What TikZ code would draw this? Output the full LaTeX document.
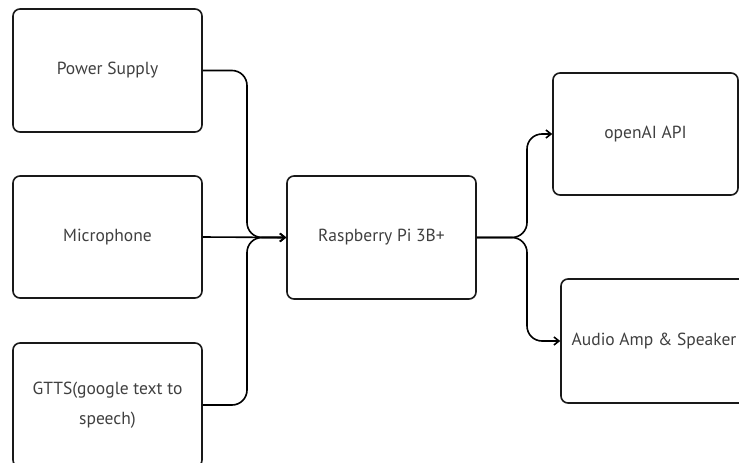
\documentclass[tikz,border=0pt]{standalone}
\usepackage{fontspec}
\setmainfont{PT Sans}
\usetikzlibrary{arrows.meta}
\begin{document}
\begin{tikzpicture}[x=1pt,y=-1pt,
  box/.style={draw=black!90, line width=1.6pt, rounded corners=7pt, text=black!75,
    font=\fontsize{17.5}{30}\selectfont, align=center},
  conn/.style={draw=black, line width=1.6pt, rounded corners=15pt, -{Straight Barb[length=5pt,width=8pt]}}]
\useasboundingbox[fill=white] (0,0) rectangle (739,463);
\node[box, minimum width=189pt, minimum height=123pt] (ps) at (107.5,70.5) {Power Supply};
\node[box, minimum width=189pt, minimum height=122pt] (mic) at (107.5,237) {Microphone};
\node[box, minimum width=189pt, minimum height=124pt] (gtts) at (107.5,405) {GTTS(google text to\\speech)};
\node[box, minimum width=189pt, minimum height=123pt] (pi) at (381.5,237.5) {Raspberry Pi 3B+};
\node[box, minimum width=185pt, minimum height=122pt] (oa) at (645.5,134) {openAI API};
\node[box, minimum width=186pt, minimum height=124pt] (au) at (654,341) {Audio Amp \& Speaker};
\coordinate (j1) at (247,237.5);
\coordinate (j2) at (527,237.5);
\draw[conn] (ps.east) -| (j1) -- (pi.west);
\draw[conn] (gtts.east) -| (j1) -- (pi.west);
\draw[conn] (mic.east) -- (pi.west);
\draw[conn] (pi.east) -- (j2) |- (oa.west);
\draw[conn] (pi.east) -- (j2) |- (au.west);
\end{tikzpicture}
\end{document}
